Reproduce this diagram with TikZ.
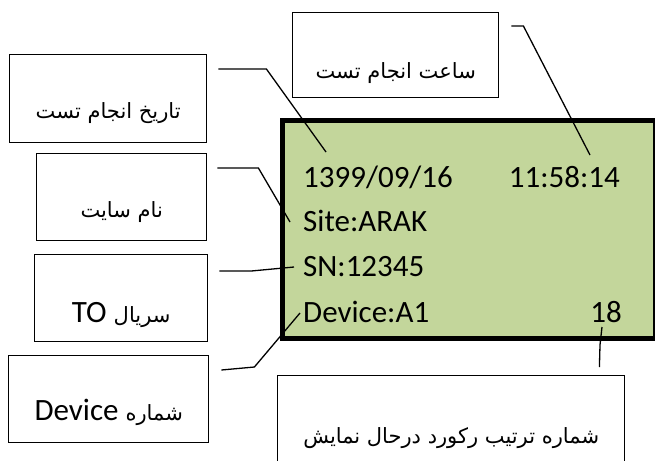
\documentclass[tikz,border=0pt]{standalone}
\usepackage{fontspec}
\setmainfont{Carlito}
\newfontfamily\farsi[Script=Arabic]{DejaVu Sans}
\TeXXeTstate=1
\usepackage{tikz}
\definecolor{lcdgreen}{HTML}{C3D69B}
\newcommand{\fatext}[1]{{\farsi\fontsize{21}{24}\selectfont #1}}
\tikzset{
  tag/.style={draw, line width=1.4pt, inner sep=0pt, anchor=north west, font=\fontsize{31}{34}\selectfont},
  lcdline/.style={inner sep=0pt, font=\fontsize{31}{34}\selectfont},
  pointer/.style={line width=1.3pt},
}

\begin{document}
\begin{tikzpicture}[x=1pt, y=-1pt]
            \useasboundingbox (0,0) rectangle (655,460);
            \node[draw, line width=5pt, fill=lcdgreen, minimum width=373pt, minimum height=218pt, inner sep=0pt, anchor=north west] (lcd) at (279.5,117.5) {};
            \node[lcdline, anchor=base west] (date) at (303,187) {1399/09/16};
            \node[lcdline, anchor=base east] (time) at (620,187) {11:58:14};
            \node[lcdline, anchor=base west] (site) at (303,231) {Site:ARAK};
            \node[lcdline, anchor=base west] (sn) at (303,276) {SN:12345};
            \node[lcdline, anchor=base west] (device) at (303,322) {Device:A1};
            \node[lcdline, anchor=base east] (count) at (622,322) {18};
            \node[tag, minimum width=197pt, minimum height=88pt, text height=64pt, text depth=24pt] (datebox) at (9,54) {\beginR\fatext{تاریخ انجام تست}\endR};
            \node[tag, minimum width=206pt, minimum height=85pt, text height=66pt, text depth=19pt] (timebox) at (292,12) {\beginR\fatext{ساعت انجام تست}\endR};
            \node[tag, minimum width=170pt, minimum height=87pt, text height=64pt, text depth=23pt] (sitebox) at (36,153) {\beginR\fatext{نام سایت}\endR};
            \node[tag, minimum width=173pt, minimum height=87pt, text height=68pt, text depth=19pt] (snbox) at (34,254) {\beginR\fatext{سریال} \beginL TO\endL\endR};
            \node[tag, minimum width=200pt, minimum height=87pt, text height=65pt, text depth=22pt] (devicebox) at (8,355) {\beginR\fatext{شماره} \beginL Device\endL\endR};
            \node[tag, minimum width=347pt, minimum height=95pt, text height=68pt, text depth=27pt] (recordbox) at (277,375) {\beginR\fatext{شماره ترتیب رکورد درحال نمایش}\endR};
            \draw[pointer] ([shift={(11,15)}]datebox.north east) -- ++(48,0) -- ([shift={(23,-35)}]date.base west);
            \draw[pointer] ([shift={(12,14)}]timebox.north east) -- ++(12,0) -- ([shift={(-30,-32)}]time.base east);
            \draw[pointer] ([shift={(10,15)}]sitebox.north east) -- ++(41,0) -- ([shift={(-13,-9)}]site.base west);
            \draw[pointer] ([shift={(11,17)}]snbox.north east) -- ++(32,0) -- ([shift={(-9,-9)}]sn.base west);
            \draw[pointer] ([shift={(12,15)}]devicebox.north east) -- ++(33,-3) -- ([shift={(-3,-9)}]device.base west);
            \draw[pointer] ([shift={(-20,5)}]count.base east) -- ++(-2,18) -- ([shift={(-26,-8)}]recordbox.north east);
        \end{tikzpicture}
\end{document}
